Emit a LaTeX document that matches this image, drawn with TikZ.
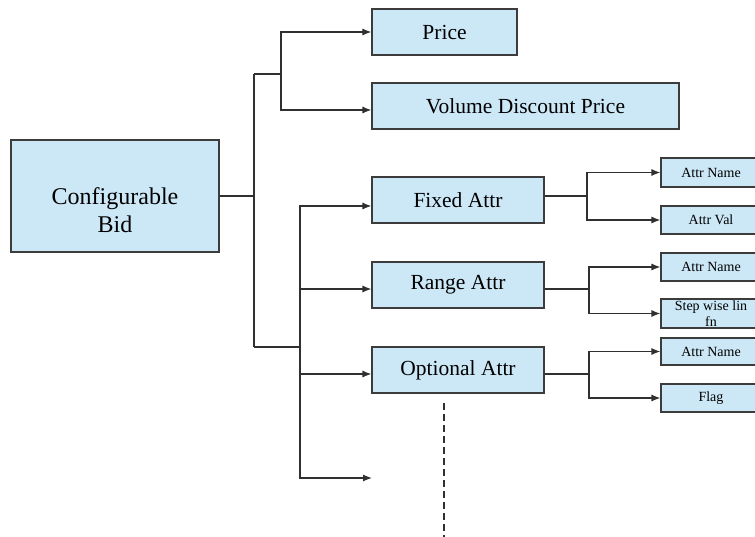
\documentclass[tikz,border=0pt]{standalone}
\usepackage{fontspec}
\setmainfont{Liberation Serif}
\usetikzlibrary{arrows.meta}
\definecolor{boxfill}{HTML}{CCE8F7}
\definecolor{boxline}{HTML}{3C3C3C}
\definecolor{wirec}{HTML}{303030}
\begin{document}
\begin{tikzpicture}[x=1pt,y=-1pt,
  box/.style={draw=boxline,fill=boxfill,line width=1.1pt,inner sep=0pt,anchor=center},
  wire/.style={draw=wirec,line width=1.2pt},
  arr/.style={wire,-{Latex[length=9pt,width=7pt]}},
  bigtxt/.style={font=\fontsize{24}{28}\selectfont,align=center},
  midtxt/.style={font=\fontsize{21.5}{25}\selectfont},
  smalltxt/.style={font=\fontsize{14}{16}\selectfont},
  subbox/.style={box,smalltxt,minimum width=100}]
\useasboundingbox[fill=white] (0,0) rectangle (755,536);

% boxes
\node[box,minimum width=208,minimum height=112] (cb) at (115,196) {};
\node[bigtxt,inner sep=0pt] (cbt) at (115,210) {Configurable\\Bid};
\node[box,midtxt,minimum width=145,minimum height=46] (price) at (444.5,32) {Price};
\node[box,midtxt,minimum width=307,minimum height=46] (vdp) at (525.5,106) {Volume Discount Price};
\node[box,midtxt,minimum width=172,minimum height=46] (fixed) at (458,200) {Fixed Attr};
\node[box,midtxt,minimum width=172,minimum height=46] (range) at (458,285) {Range Attr};
\node[box,midtxt,minimum width=172,minimum height=46] (opt) at (458,370) {Optional Attr};

\node[subbox,minimum height=29] (fan) at (711,172.5) {Attr Name};
\node[subbox,minimum height=28] (fav) at (711,220) {Attr Val};
\node[subbox,minimum height=28] (ran) at (711,267) {Attr Name};
\node[subbox,minimum height=29] (rsw) at (711,313.5) {};
\node[smalltxt,anchor=base,inner sep=0pt] (rsw1) at (711,310) {Step wise lin};
\node[smalltxt,anchor=base,inner sep=0pt] (rsw2) at (711,326) {fn};
\node[subbox,minimum height=27] (oan) at (711,351.5) {Attr Name};
\node[subbox,minimum height=28] (ofl) at (711,398) {Flag};

% main tree
\coordinate (ja) at (254,74);
\coordinate (jb) at (254,347);
\coordinate (jc) at (281,74);
\coordinate (k) at (300,347);
\coordinate (endc) at (372,478);
\draw[wire] (cb.east) -- (cb.east -| ja);
\draw[wire] (ja) -- (jb);
\draw[wire] (ja) -- (jc);
\draw[arr] (jc) |- (price.west);
\draw[arr] (jc) |- ([yshift=-4pt]vdp.west);
\draw[wire] (jb) -- (k);
\draw[arr] (k) |- ([yshift=-6pt]fixed.west);
\draw[arr] (k) |- ([yshift=-4pt]range.west);
\draw[arr] (k) |- ([yshift=-4pt]opt.west);
\draw[arr] (k) |- (endc);

% sub trees
\coordinate (fj) at (587,196);
\draw[wire] ([yshift=4pt]fixed.east) -- (fj);
\draw[arr] (fj) |- (fan.west);
\draw[arr] (fj) |- (fav.west);
\coordinate (rj) at (589,289);
\draw[wire] ([yshift=-4pt]range.east) -- (rj);
\draw[arr] (rj) |- (ran.west);
\draw[arr] (rj) |- (rsw.west);
\coordinate (oj) at (589,374);
\draw[wire] ([yshift=-4pt]opt.east) -- (oj);
\draw[arr] (oj) |- (oan.west);
\draw[arr] (oj) |- (ofl.west);

% dashed continuation
\coordinate (d1) at (444,403);
\coordinate (d2) at (444,540);
\draw[wire,dash pattern=on 7pt off 4pt] (d1) -- (d2);
\end{tikzpicture}
\end{document}
